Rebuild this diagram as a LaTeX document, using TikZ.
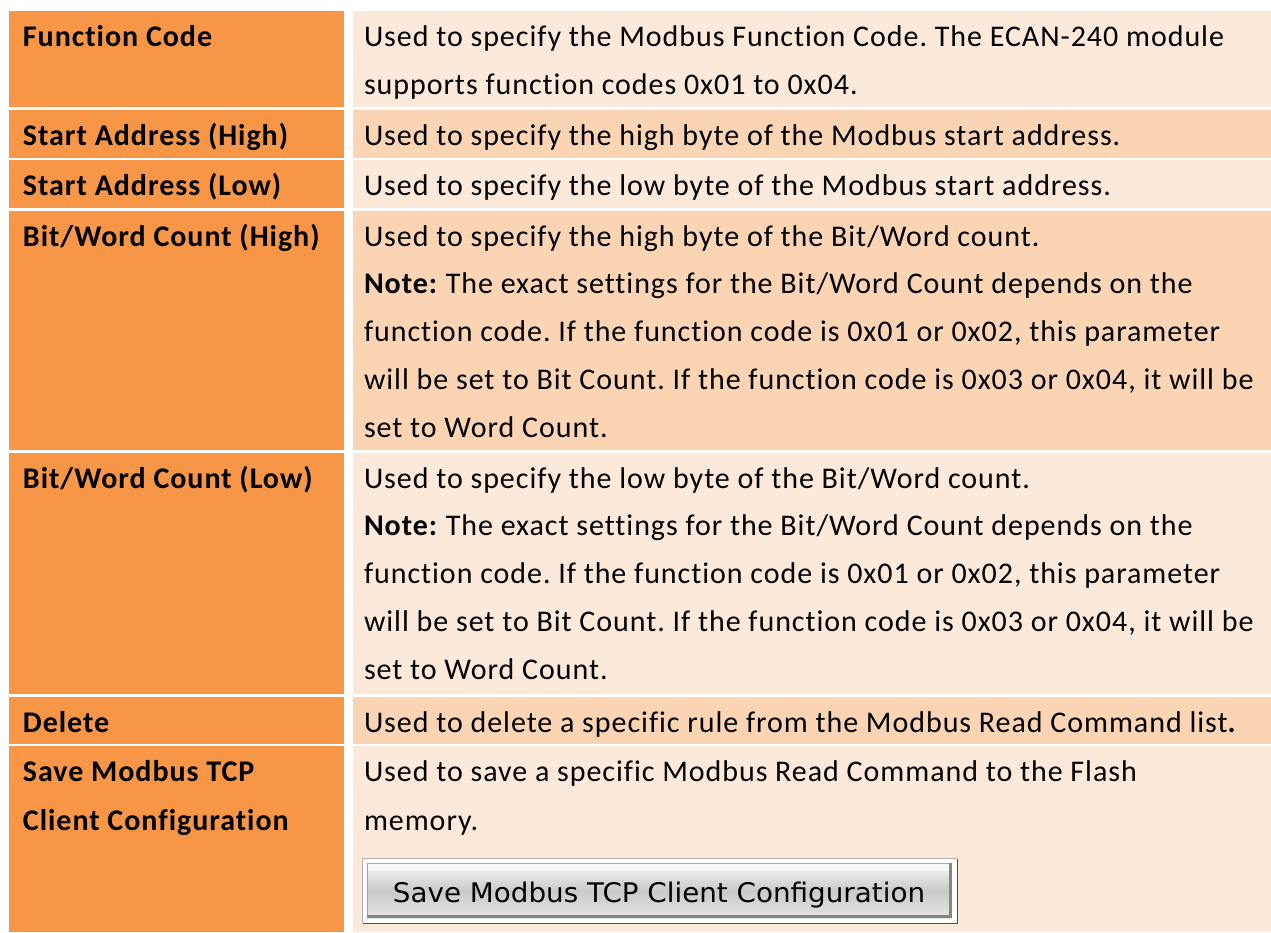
\documentclass[tikz,border=0pt]{standalone}
\usepackage{fontspec}
\setmainfont{Carlito}[LetterSpace=3.2, Ligatures=NoCommon]
\newfontfamily\btnfont{DejaVu Sans}
\definecolor{hdr}{HTML}{F79646}
\definecolor{rowA}{HTML}{FDE9D9}
\definecolor{rowB}{HTML}{FBD4B4}
\definecolor{btnTop}{HTML}{F7F7F5}
\definecolor{btnMid}{HTML}{CACAC8}
\definecolor{btnBot}{HTML}{E4E4E2}
\frenchspacing

\tikzset{
  cell/.style={anchor=north west, inner sep=0pt, outer sep=0pt, draw=none},
  keycell/.style={cell, fill=hdr, minimum width=335pt},
  desccell/.style={cell, minimum width=918pt},
  txt/.style={anchor=base west, inner sep=0pt, outer sep=0pt,
              font=\fontsize{30}{48}\selectfont},
  key/.style={txt, font=\fontsize{30}{48}\selectfont\bfseries},
}

\begin{document}
\begin{tikzpicture}[x=1pt,y=-1pt]
\useasboundingbox (0,0) rectangle (1271,932);
\fill[white] (0,0) rectangle (1271,932);

% ---- table cells: key column (orange) and description column (alternating)
\node[keycell, minimum height=96pt]   (k1) at (9,11)  {};
\node[keycell, minimum height=47.5pt] (k2) at (9,110) {};
\node[keycell, minimum height=47.5pt] (k3) at (9,160) {};
\node[keycell, minimum height=238.5pt](k4) at (9,211) {};
\node[keycell, minimum height=241pt]  (k5) at (9,453) {};
\node[keycell, minimum height=46.5pt] (k6) at (9,697) {};
\node[keycell, minimum height=186pt]  (k7) at (9,746) {};

\node[desccell, fill=rowA, minimum height=96pt]   (d1) at (353,11)  {};
\node[desccell, fill=rowB, minimum height=47.5pt] (d2) at (353,110) {};
\node[desccell, fill=rowA, minimum height=47.5pt] (d3) at (353,160) {};
\node[desccell, fill=rowB, minimum height=238.5pt](d4) at (353,211) {};
\node[desccell, fill=rowA, minimum height=241pt]  (d5) at (353,453) {};
\node[desccell, fill=rowB, minimum height=46.5pt] (d6) at (353,697) {};
\node[desccell, fill=rowA, minimum height=186pt]  (d7) at (353,746) {};

% ---- key column labels
\node[key] (l1)  at (23,46)    {Function Code};
\node[key] (l2)  at (23,145.5) {Start Address (High)};
\node[key] (l3)  at (23,195)   {Start Address (Low)};
\node[key] (l4)  at (23,246)   {Bit/Word Count (High)};
\node[key] (l5)  at (23,488)   {Bit/Word Count (Low)};
\node[key] (l6)  at (23,732)   {Delete};
\node[key] (l7a) at (23,781.5) {Save Modbus TCP};
\node[key] (l7b) at (23,830)   {Client Configuration};

% ---- descriptions
\node[txt] (t1a) at (364,46)  {Used to specify the Modbus Function Code. The ECAN-240 module};
\node[txt] (t1b) at (364,94)  {supports function codes 0x01 to 0x04.};
\node[txt] (t2)  at (364,145.5) {Used to specify the high byte of the Modbus start address.};
\node[txt] (t3)  at (364,195) {Used to specify the low byte of the Modbus start address.};

\node[txt] (t4a) at (364,246)    {Used to specify the high byte of the Bit/Word count.};
\node[txt] (t4b) at (364,293.75) {\textbf{Note:} The exact settings for the Bit/Word Count depends on the};
\node[txt] (t4c) at (364,341.5)  {function code. If the function code is 0x01 or 0x02, this parameter};
\node[txt] (t4d) at (364,389.25) {will be set to Bit Count. If the function code is 0x03 or 0x04, it will be};
\node[txt] (t4e) at (364,437)    {set to Word Count.};

\node[txt] (t5a) at (364,488)    {Used to specify the low byte of the Bit/Word count.};
\node[txt] (t5b) at (364,535.75) {\textbf{Note:} The exact settings for the Bit/Word Count depends on the};
\node[txt] (t5c) at (364,583.5)  {function code. If the function code is 0x01 or 0x02, this parameter};
\node[txt] (t5d) at (364,631.25) {will be set to Bit Count. If the function code is 0x03 or 0x04, it will be};
\node[txt] (t5e) at (364,679)    {set to Word Count.};

\node[txt] (t6)  at (364,732)   {Used to delete a specific rule from the Modbus Read Command list\textbf{.}};
\node[txt] (t7a) at (364,781.5) {Used to save a specific Modbus Read Command to the Flash};
\node[txt] (t7b) at (364,830)   {memory.};

% ---- the save button
\fill[white] (362,858) rectangle (958,924);
\draw[line width=1.2pt, color=black!30] (362.6,923.4) -- (362.6,858.6) -- (957.4,858.6);
\draw[line width=1.5pt, color=black!70] (362.6,923.3) -- (957.3,923.3) -- (957.3,858.6);
\shade[top color=btnTop, bottom color=btnBot, middle color=btnMid]
  (367,863) rectangle (952,918);
\fill[btnTop] (367,863) rectangle (952,871);
\draw[line width=1pt, color=black!35] (367.5,917) -- (367.5,863.5) -- (951,863.5);
\draw[line width=3pt, color=black!48] (367,916.5) -- (950.5,916.5) -- (950.5,863);
\node[anchor=base, inner sep=0pt] (btn) at (659,902)
  {\resizebox{532pt}{20.5pt}{\btnfont Save Modbus TCP Client Configuration}};
\end{tikzpicture}
\end{document}
